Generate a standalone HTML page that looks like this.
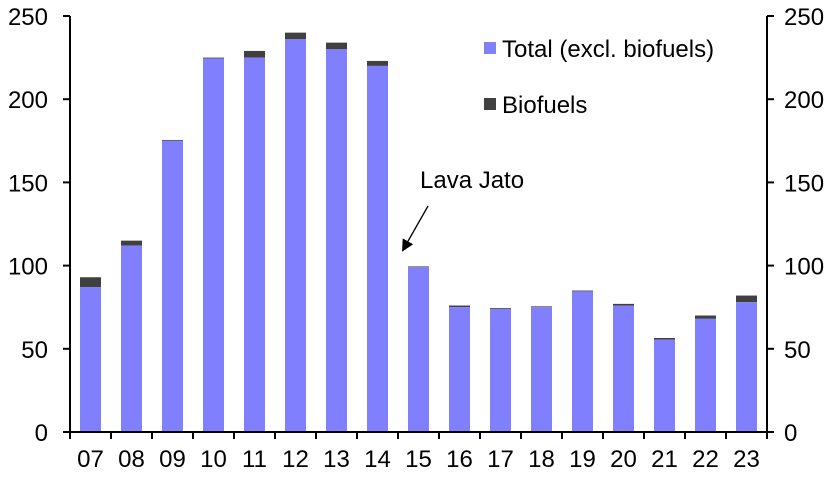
<!DOCTYPE html>
<html><head><meta charset="utf-8"><style>
html,body{margin:0;padding:0;background:#fff;}
svg{display:block;font-family:"Liberation Sans",Arial,sans-serif;}
</style></head><body>
<svg id="c" width="837" height="482" viewBox="0 0 837 482" xmlns="http://www.w3.org/2000/svg">
<defs><marker id="ah" markerWidth="12" markerHeight="12" refX="10" refY="6" orient="auto" markerUnits="userSpaceOnUse"><path d="M0,0 L12,6 L0,12 z" fill="#000"/></marker></defs>
<g id="g"></g>
<rect x="484" y="42" width="12" height="12" fill="#8080ff"/>
<text x="502" y="57" font-size="24">Total (excl. biofuels)</text>
<rect x="484" y="98" width="12" height="12" fill="#404040"/>
<text x="502" y="113" font-size="24">Biofuels</text>
<text x="420" y="188" font-size="24">Lava Jato</text>
<line x1="428" y1="206" x2="403" y2="250" stroke="#000" stroke-width="1.3" marker-end="url(#ah)"/>
</svg>
<script>
var g=document.getElementById('g'),s='';
var L=70,R=767,Y0=432,k=416/250;
var d=[[87,93],[112,115],[175,175.5],[224.5,225],[225,229],[236,240],[230,234],[220,223],[99,99.5],[75,76],[74,74.5],[75,75.5],[84.5,85],[76,77],[55.5,56.5],[68,70],[78,82]];
var lab=['07','08','09','10','11','12','13','14','15','16','17','18','19','20','21','22','23'];
var w=(R-L)/17;
d.forEach(function(v,i){var c=L+w*(i+0.5),x=c-10.5;
var yt=Y0-v[0]*k,yb=Y0-v[1]*k;
s+='<rect x="'+x+'" y="'+yb+'" width="21" height="'+(yt-yb)+'" fill="#404040"/>';
s+='<rect x="'+x+'" y="'+yt+'" width="21" height="'+(Y0-yt)+'" fill="#8080ff"/>';
s+='<text x="'+c+'" y="467" font-size="24" text-anchor="middle">'+lab[i]+'</text>';});
for(var i=0;i<=17;i++){var x=L+w*i;s+='<line x1="'+x+'" y1="'+Y0+'" x2="'+x+'" y2="'+(Y0+7)+'" stroke="#000" stroke-width="2"/>';}
for(var t=0;t<=250;t+=50){var y=Y0-t*k;
s+='<line x1="'+(L-7)+'" y1="'+y+'" x2="'+L+'" y2="'+y+'" stroke="#000" stroke-width="2"/>';
s+='<line x1="'+R+'" y1="'+y+'" x2="'+(R+7)+'" y2="'+y+'" stroke="#000" stroke-width="2"/>';
s+='<text x="48" y="'+(y+9)+'" font-size="24" text-anchor="end">'+t+'</text>';
s+='<text x="784" y="'+(y+9)+'" font-size="24">'+t+'</text>';}
s+='<line x1="'+L+'" y1="'+(Y0-250*k)+'" x2="'+L+'" y2="'+Y0+'" stroke="#000" stroke-width="2"/>';
s+='<line x1="'+R+'" y1="'+(Y0-250*k)+'" x2="'+R+'" y2="'+Y0+'" stroke="#000" stroke-width="2"/>';
s+='<line x1="'+L+'" y1="'+Y0+'" x2="'+R+'" y2="'+Y0+'" stroke="#000" stroke-width="2"/>';
g.innerHTML=s;
</script>
</body></html>
